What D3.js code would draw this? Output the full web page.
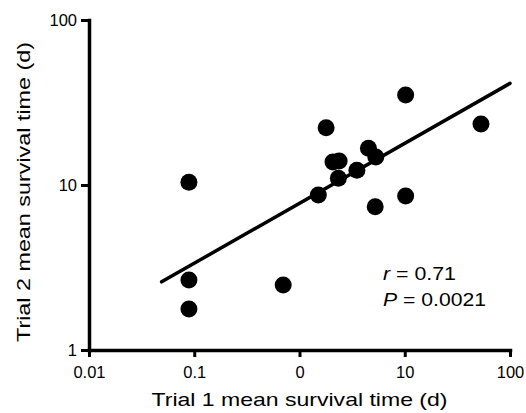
<!DOCTYPE html>
<html><head><meta charset="utf-8">
<script src="https://cdn.jsdelivr.net/npm/d3@7"></script>
<style>body{margin:0;background:#fff}svg{display:block}text{font-family:"Liberation Sans",Arial,Helvetica,sans-serif}</style>
</head><body>
<svg id="c" width="526" height="413"></svg>
<script>
const trial1 = [0.089,0.089,0.089,0.70,1.51,1.79,2.08,2.38,2.34,3.51,4.52,5.31,5.24,10.2,10.2,53];
const trial2 = [10.4,2.66,1.77,2.48,8.7,22.2,13.8,14.0,11.0,12.3,16.7,14.8,7.39,35.1,8.58,23.4];
const fitX = [0.049,100];
const fitY = [2.59,41.3];
const xTickValues = [0.01,0.1,1,10,100];
const xTickLabels = ["0.01","0.1","0","10","100"];
const yTickValues = [1,10,100];
const yTickLabels = ["1","10","100"];
const stats = [["r"," = 0.71"],["P"," = 0.0021"]];

const svg = d3.select("#c");
const x = d3.scaleLog().domain([0.01,100]).range([89,510]);
const y = d3.scaleLog().domain([1,100]).range([350,20]);

const xa = svg.append("g").attr("transform","translate(0,350)")
  .call(d3.axisBottom(x).tickValues(xTickValues).tickFormat((d,i)=>xTickLabels[i]).tickSize(7).tickSizeOuter(0).tickPadding(9));
const ya = svg.append("g").attr("transform","translate(89,0)")
  .call(d3.axisLeft(y).tickValues(yTickValues).tickFormat((d,i)=>yTickLabels[i]).tickSize(8).tickSizeOuter(0).tickPadding(4));
[xa,ya].forEach(g=>{
  g.select(".domain").attr("stroke","#000").attr("stroke-width",3.5).attr("stroke-linecap","square");
  g.selectAll(".tick line").attr("stroke","#000").attr("stroke-width",3);
  g.selectAll(".tick text").attr("fill","#000").attr("font-size",16.5).attr("font-family",'"Liberation Sans",Arial,sans-serif');
});

svg.append("line")
  .attr("x1",x(fitX[0])).attr("y1",y(fitY[0]))
  .attr("x2",x(fitX[1])).attr("y2",y(fitY[1]))
  .attr("stroke","#000").attr("stroke-width",3.5).attr("stroke-linecap","round");

svg.append("g").selectAll("circle").data(trial1).join("circle")
  .attr("cx",d=>x(d)).attr("cy",(d,i)=>y(trial2[i])).attr("r",8.5).attr("fill","#000");

svg.append("text").attr("x",299.5).attr("y",406).attr("text-anchor","middle")
  .attr("font-size",19).attr("textLength",296).attr("lengthAdjust","spacingAndGlyphs")
  .text("Trial 1 mean survival time (d)");
svg.append("text").attr("transform","translate(30,192) rotate(-90)").attr("text-anchor","middle")
  .attr("font-size",19).attr("textLength",300).attr("lengthAdjust","spacingAndGlyphs")
  .text("Trial 2 mean survival time (d)");

const statWidths = [73,103];
stats.forEach((s,i)=>{
  const t = svg.append("text").attr("x",383).attr("y",280+i*26).attr("font-size",17.5)
    .attr("textLength",statWidths[i]).attr("lengthAdjust","spacingAndGlyphs");
  t.append("tspan").attr("font-style","italic").text(s[0]);
  t.append("tspan").text(s[1]);
});
</script>
</body></html>
